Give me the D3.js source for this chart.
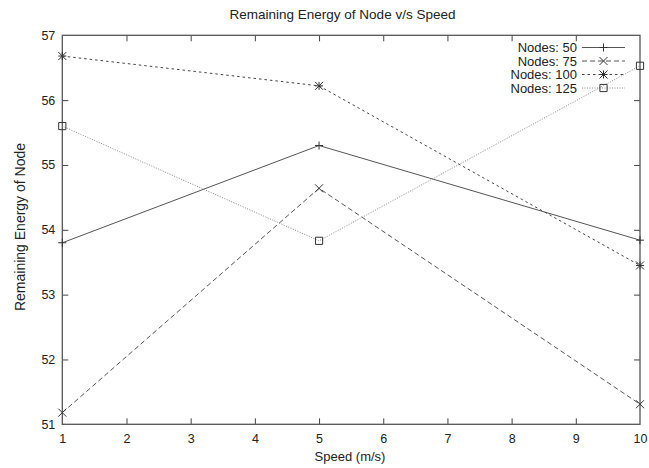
<!DOCTYPE html>
<html>
<head>
<meta charset="utf-8">
<script src="https://cdn.jsdelivr.net/npm/d3@7"></script>
<style>
  html, body { margin: 0; padding: 0; background: #fff; }
  svg { display: block; }
  text { font-family: "Liberation Sans", Arial, Helvetica, sans-serif; fill: #222; }
</style>
</head>
<body>
<svg id="chart" width="649" height="468"></svg>
<script>
const title = "Remaining Energy of Node v/s Speed";
const xLabel = "Speed (m/s)";
const yLabel = "Remaining Energy of Node";
const speeds = [1, 5, 10];
const xTicks = [1, 2, 3, 4, 5, 6, 7, 8, 9, 10];
const yTicks = [51, 52, 53, 54, 55, 56, 57];
const seriesNames = ["Nodes: 50", "Nodes: 75", "Nodes: 100", "Nodes: 125"];
const nodes50 = [53.80, 55.30, 53.84];
const nodes75 = [51.18, 54.64, 51.31];
const nodes100 = [56.68, 56.22, 53.45];
const nodes125 = [55.60, 53.83, 56.53];

const seriesValues = [nodes50, nodes75, nodes100, nodes125];
const styles = [
  { stroke: "#555", dash: null, marker: "plus" },
  { stroke: "#555", dash: "5,3", marker: "cross" },
  { stroke: "#444", dash: "2.5,3", marker: "star" },
  { stroke: "#888", dash: "1,1.5", marker: "square" }
];

const W = 649, H = 468;
const margin = { top: 35.3, right: 9, bottom: 43.7, left: 62.3 };
const svg = d3.select("#chart");

const x = d3.scaleLinear().domain([1, 10]).range([margin.left, W - margin.right]);
const y = d3.scaleLinear().domain([51, 57]).range([H - margin.bottom, margin.top]);

const fs = 12.5;

// axes with inward ticks
const gB = svg.append("g").attr("transform", `translate(0,${y(51)})`)
  .call(d3.axisBottom(x).tickValues(xTicks).tickFormat(d3.format("d")).tickSizeInner(-6).tickSizeOuter(0).tickPadding(9.5));
const gT = svg.append("g").attr("transform", `translate(0,${y(57)})`)
  .call(d3.axisTop(x).tickValues(xTicks).tickFormat("").tickSizeInner(-6).tickSizeOuter(0));
const gL = svg.append("g").attr("transform", `translate(${x(1)},0)`)
  .call(d3.axisLeft(y).tickValues(yTicks).tickFormat(d3.format("d")).tickSizeInner(-6).tickSizeOuter(0).tickPadding(7));
const gR = svg.append("g").attr("transform", `translate(${x(10)},0)`)
  .call(d3.axisRight(y).tickValues(yTicks).tickFormat("").tickSizeInner(-6).tickSizeOuter(0));

[gB, gT, gL, gR].forEach(g => {
  g.select(".domain").remove();
  g.selectAll(".tick line").attr("stroke", "#444").attr("stroke-width", 1);
  g.selectAll(".tick text").attr("font-size", fs).attr("fill", "#222")
    .style("font-family", '"Liberation Sans", Arial, sans-serif');
});
gB.selectAll(".tick").filter(d => d === 1 || d === 10).select("line").remove();
gT.selectAll(".tick").filter(d => d === 1 || d === 10).select("line").remove();
gL.selectAll(".tick").filter(d => d === 51 || d === 57).select("line").remove();
gR.selectAll(".tick").filter(d => d === 51 || d === 57).select("line").remove();

// frame
svg.append("rect")
  .attr("x", x(1)).attr("y", y(57))
  .attr("width", x(10) - x(1)).attr("height", y(51) - y(57))
  .attr("fill", "none").attr("stroke", "#555").attr("stroke-width", 1.3);

// titles
svg.append("text").attr("x", 342.5).attr("y", 18.5).attr("text-anchor", "middle")
  .attr("font-size", 13.5).text(title);
svg.append("text").attr("x", 350).attr("y", 461).attr("text-anchor", "middle")
  .attr("font-size", 13).text(xLabel);
svg.append("text").attr("transform", `translate(20,227) rotate(-90)`)
  .attr("text-anchor", "middle").attr("dy", "0.35em")
  .attr("font-size", 14).text(yLabel);

function drawMarker(g, type, cx, cy, color) {
  const s = 4;
  const p = d3.path();
  if (type === "plus") {
    p.moveTo(cx - s, cy); p.lineTo(cx + s, cy);
    p.moveTo(cx, cy - s); p.lineTo(cx, cy + s);
  } else if (type === "cross") {
    p.moveTo(cx - s, cy - s); p.lineTo(cx + s, cy + s);
    p.moveTo(cx - s, cy + s); p.lineTo(cx + s, cy - s);
  } else if (type === "star") {
    p.moveTo(cx - s, cy); p.lineTo(cx + s, cy);
    p.moveTo(cx, cy - s); p.lineTo(cx, cy + s);
    p.moveTo(cx - s, cy - s); p.lineTo(cx + s, cy + s);
    p.moveTo(cx - s, cy + s); p.lineTo(cx + s, cy - s);
  } else if (type === "square") {
    p.rect(cx - 3.6, cy - 3.6, 7.2, 7.2);
  }
  g.append("path").attr("d", p.toString()).attr("fill", "none")
    .attr("stroke", color).attr("stroke-width", 1);
}

const line = d3.line().x((d, i) => x(speeds[i])).y(d => y(d));
const plot = svg.append("g");
seriesValues.forEach((vals, k) => {
  const st = styles[k];
  plot.append("path").datum(vals).attr("d", line)
    .attr("fill", "none").attr("stroke", st.stroke).attr("stroke-width", 1)
    .attr("stroke-dasharray", st.dash);
  vals.forEach((v, i) => drawMarker(plot, st.marker, x(speeds[i]), y(v), "#333"));
});

// legend
const leg = svg.append("g");
seriesNames.forEach((name, k) => {
  const st = styles[k];
  const cy = 47.5 + k * 13.5;
  leg.append("text").attr("x", 577).attr("y", cy).attr("dy", "0.35em")
    .attr("text-anchor", "end").attr("font-size", 13).text(name);
  leg.append("line").attr("x1", 582).attr("x2", 625).attr("y1", cy).attr("y2", cy)
    .attr("stroke", st.stroke).attr("stroke-width", 1).attr("stroke-dasharray", st.dash);
  drawMarker(leg, st.marker, 603.5, cy, "#333");
});
</script>
</body>
</html>
